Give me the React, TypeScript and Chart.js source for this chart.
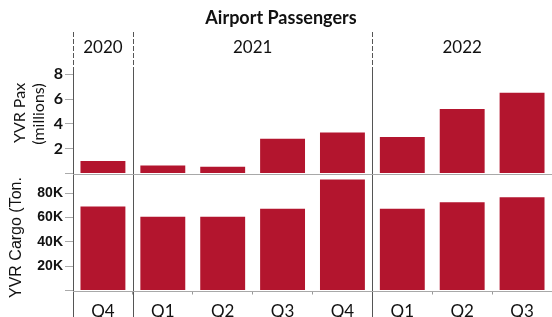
import React, { useEffect, useRef } from 'react';
import { Chart, registerables } from 'chart.js';

Chart.register(...registerables);

// ---- data ----
const chartTitle = 'Airport Passengers';
const quarters = ['Q4', 'Q1', 'Q2', 'Q3', 'Q4', 'Q1', 'Q2', 'Q3'];
const years = ['2020', '2021', '2022'];
const quartersPerYear = [1, 4, 3];
const paxMillions = [1.0, 0.65, 0.55, 2.8, 3.3, 2.95, 5.2, 6.5];
const cargoTons = [69000, 60500, 60500, 67000, 91000, 67000, 72500, 76500];
const paxTicks = [0, 2, 4, 6, 8];
const cargoTicks = [0, 20000, 40000, 60000, 80000];
const paxMax = 8.5;
const cargoMax = 96000;
const paxTitleLines = ['YVR Pax', '(millions)'];
const cargoTitle = 'YVR Cargo (Ton.';

const BAR_COLOR = '#B3152E';
const TEXT = '#111';

const overlayPlugin = {
  id: 'overlay',
  afterDraw(chart: any) {
    const { ctx, chartArea } = chart;
    const x = chart.scales.x;
    const yPax = chart.scales.yPax;
    const yCargo = chart.scales.yCargo;
    const step = x.getPixelForValue(1) - x.getPixelForValue(0);
    const boundary = (i: number) => x.getPixelForValue(i) - step / 2;

    ctx.save();
    // title
    ctx.fillStyle = TEXT;
    ctx.font = 'bold 18px Lato';
    ctx.textAlign = 'center';
    ctx.textBaseline = 'middle';
    ctx.fillText(chartTitle, 281, 18);

    // year labels + separators
    ctx.font = '17px Lato';
    let start = 0;
    const seps: number[] = [boundary(0)];
    years.forEach((yr, i) => {
      const end = start + quartersPerYear[i];
      const x0 = boundary(start);
      const x1 = i === years.length - 1 ? chartArea.right : boundary(end);
      ctx.fillText(yr, (x0 + x1) / 2, 48);
      if (i < years.length - 1) seps.push(boundary(end));
      start = end;
    });

    ctx.strokeStyle = '#555';
    ctx.lineWidth = 1;
    seps.forEach((sx) => {
      const px = Math.round(sx) + 0.5;
      ctx.setLineDash([5, 2]);
      ctx.beginPath();
      ctx.moveTo(px, 32);
      ctx.lineTo(px, chartArea.top);
      ctx.stroke();
      ctx.setLineDash([]);
      ctx.beginPath();
      ctx.moveTo(px, chartArea.top);
      ctx.lineTo(px, 317);
      ctx.stroke();
    });

    // horizontal baselines
    ctx.strokeStyle = '#a8a8a8';
    [yPax.getPixelForValue(0), yCargo.getPixelForValue(0)].forEach((py) => {
      const p = Math.round(py) + 0.5;
      ctx.beginPath();
      ctx.moveTo(chartArea.left, p);
      ctx.lineTo(chartArea.right, p);
      ctx.stroke();
    });

    // y titles
    ctx.fillStyle = TEXT;
    ctx.textAlign = 'center';
    ctx.textBaseline = 'middle';
    ctx.save();
    ctx.translate(20, 113);
    ctx.rotate(-Math.PI / 2);
    ctx.font = '16px Lato';
    ctx.fillText(paxTitleLines[0], 0, 0);
    ctx.restore();
    ctx.save();
    ctx.translate(39, 114);
    ctx.rotate(-Math.PI / 2);
    ctx.font = '16px Lato';
    ctx.fillText(paxTitleLines[1], 0, 0);
    ctx.restore();
    ctx.save();
    ctx.translate(17, 298);
    ctx.rotate(-Math.PI / 2);
    ctx.font = '16px "Liberation Sans"';
    ctx.textAlign = 'left';
    ctx.fillText(cargoTitle, 0, 0);
    ctx.restore();

    ctx.restore();
  },
};

export default function App() {
  const ref = useRef<HTMLCanvasElement>(null);
  useEffect(() => {
    const canvas = ref.current!;
    const chart = new Chart(canvas, {
      type: 'bar',
      data: {
        labels: quarters,
        datasets: [
          {
            label: 'YVR Pax',
            data: paxMillions,
            yAxisID: 'yPax',
            backgroundColor: BAR_COLOR,
            grouped: false,
            barPercentage: 0.75,
            categoryPercentage: 1,
          } as any,
          {
            label: 'YVR Cargo',
            data: cargoTons,
            yAxisID: 'yCargo',
            backgroundColor: BAR_COLOR,
            grouped: false,
            barPercentage: 0.75,
            categoryPercentage: 1,
          } as any,
        ],
      },
      options: {
        animation: false,
        responsive: false,
        devicePixelRatio: 1,
        layout: { padding: { top: 68, left: 0, right: 0, bottom: 0 } },
        plugins: { legend: { display: false }, tooltip: { enabled: false }, title: { display: false } },
        scales: {
          x: {
            offset: true,
            afterFit: (s: any) => {
              s.height = 26.5;
            },
            grid: { display: true, offset: true, drawOnChartArea: false, tickLength: 4, color: '#999' },
            border: { display: false },
            ticks: {
              font: { family: 'Lato', size: 17, lineHeight: 1 },
              color: TEXT,
              padding: 9,
              maxRotation: 0,
              autoSkip: false,
            },
          },
          yCargo: {
            type: 'linear',
            position: 'left',
            stack: 'v',
            stackWeight: 117,
            min: 0,
            max: cargoMax,
            afterBuildTicks: (s: any) => {
              s.ticks = cargoTicks.map((value) => ({ value }));
            },
            afterFit: (s: any) => {
              s.width = 73;
            },
            grid: { drawOnChartArea: false, tickLength: 8, color: '#aaa' },
            border: { display: false },
            ticks: {
              autoSkip: false,
              callback: (v: any) => (v === 0 ? '' : v / 1000 + 'K'),
              font: { family: 'Liberation Sans', size: 14, weight: 'bold' },
              color: TEXT,
              padding: 2,
            },
          },
          yPax: {
            type: 'linear',
            position: 'left',
            stack: 'v',
            stackWeight: 105.5,
            min: 0,
            max: paxMax,
            afterBuildTicks: (s: any) => {
              s.ticks = paxTicks.map((value) => ({ value }));
            },
            afterFit: (s: any) => {
              s.width = 73;
            },
            grid: { drawOnChartArea: false, tickLength: 8, color: '#aaa' },
            border: { display: false },
            ticks: {
              autoSkip: false,
              callback: (v: any) => (v === 0 ? '' : String(v)),
              font: { family: 'Lato', size: 16, weight: 'bold' },
              color: TEXT,
              padding: 2,
            },
          },
        },
      } as any,
      plugins: [overlayPlugin],
    });
    return () => chart.destroy();
  }, []);

  return (
    <div style={{ position: 'fixed', left: 0, top: 0, width: 552, height: 317, background: '#fff' }}>
      <canvas ref={ref} width={552} height={317} style={{ display: 'block' }} />
    </div>
  );
}
